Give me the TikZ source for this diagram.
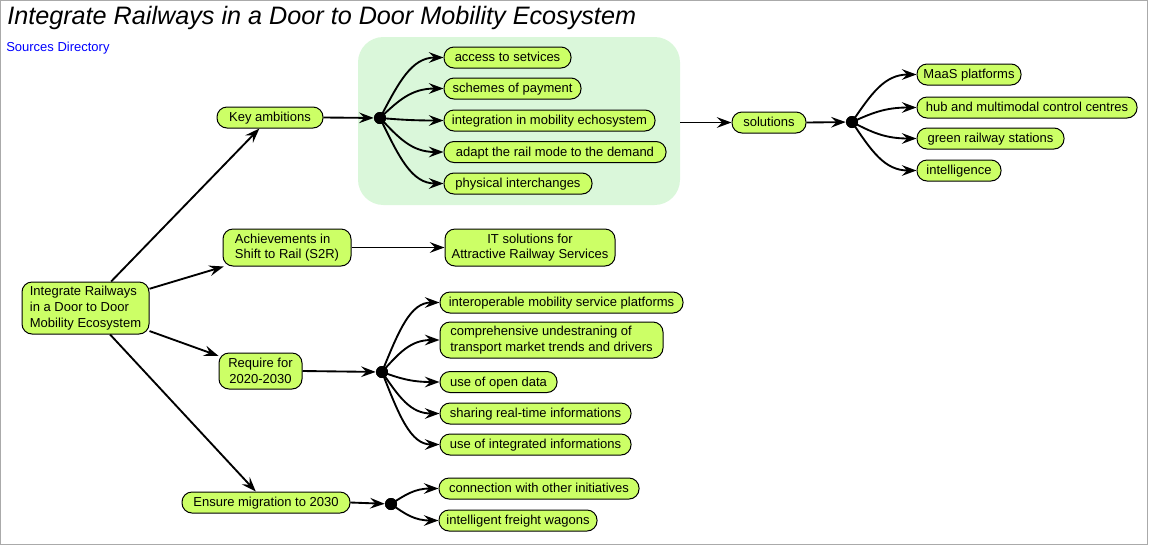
\documentclass[tikz,border=0pt]{standalone}
\usepackage{fontspec}
\setmainfont{Liberation Sans}
\usetikzlibrary{arrows.meta}
\definecolor{nodefill}{RGB}{204,255,102}
\definecolor{groupbg}{RGB}{218,247,218}
\definecolor{framegray}{RGB}{170,170,170}
\tikzset{
  box/.style={draw=black, fill=nodefill, line width=0.75pt, inner sep=0pt, anchor=center,
    font=\fontsize{9.75pt}{11.75pt}\selectfont},
  pill/.style={box, rounded corners=7.5pt, minimum height=15.75pt, text height=7pt, text depth=0.6pt},
  bigbox/.style={box, rounded corners=7.5pt},
  junction/.style={circle, fill=black, draw=none, inner sep=0pt, minimum size=9pt},
  conn/.style={line width=1.4pt, -{Stealth[length=11pt, width=8pt, inset=4pt]}},
}
\begin{document}
\begin{tikzpicture}[x=0.75pt, y=-0.75pt]
\useasboundingbox (0,0) rectangle (1149,547);
\draw[framegray, line width=0.75pt] (0.5,0.5) rectangle (1147.5,544.5);

% title and link
\node[anchor=base west, inner sep=0pt, font=\fontsize{18.9pt}{22pt}\selectfont\itshape] (title) at (7,24) {Integrate Railways in a Door to Door Mobility Ecosystem};
\node[anchor=base west, inner sep=0pt, text=blue, font=\fontsize{9.75pt}{11.75pt}\selectfont] (src) at (6,51) {Sources Directory};

% green group background
\node[fill=groupbg, draw=none, rounded corners=19pt, minimum width=241.5pt, minimum height=126pt, inner sep=0pt, anchor=center] (bg) at (519,121) {};

% root
\node[bigbox, minimum width=95.25pt, minimum height=39pt, align=left] (root) at (85.5,308) {Integrate Railways\\in a Door to Door\\Mobility Ecosystem};

% key ambitions branch
\node[pill, minimum width=79.5pt] (key) at (270,117.5) {Key ambitions};
\node[junction] (d1) at (380,118) {};
\node[pill, minimum width=95.25pt] (acc) at (507.5,57.5) {access to setvices};
\node[pill, minimum width=102.75pt] (sch) at (512.5,88.5) {schemes of payment};
\node[pill, minimum width=158.25pt] (intg) at (549.5,120.5) {integration in mobility echosystem};
\node[pill, minimum width=166.5pt] (adp) at (555,152) {adapt the rail mode to the demand};
\node[pill, minimum width=111pt] (phy) at (518,183.5) {physical interchanges};

% solutions
\node[pill, minimum width=55.5pt] (sol) at (769,122.5) {solutions};
\node[junction] (d2) at (852,122) {};
\node[pill, minimum width=78pt] (maas) at (969,74.5) {MaaS platforms};
\node[pill, minimum width=165pt] (hub) at (1027,107.5) {hub and multimodal control centres};
\node[pill, minimum width=110.25pt] (grn) at (990.5,138.5) {green railway stations};
\node[pill, minimum width=63pt] (intl) at (959,170.5) {intelligence};

% achievements
\node[bigbox, minimum width=96pt, minimum height=27.75pt, align=left] (ach) at (287,247.5) {Achievements in\\Shift to Rail (S2R)};
\node[bigbox, minimum width=127.5pt, minimum height=27.75pt, align=center] (its) at (530,247.5) {IT solutions for\\Attractive Railway Services};

% require
\node[bigbox, minimum width=62.25pt, minimum height=27pt, align=center] (req) at (260.5,371) {Require for\\2020-2030};
\node[junction] (d3) at (382,372) {};
\node[pill, minimum width=182.25pt] (iop) at (561.5,302.5) {interoperable mobility service platforms};
\node[bigbox, minimum width=167.25pt, minimum height=27pt, align=left] (cmp) at (551.5,340) {comprehensive undestraning of\\transport market trends and drivers};
\node[pill, minimum width=87.75pt] (opn) at (498.5,382) {use of open data};
\node[pill, minimum width=143.25pt] (shr) at (535.5,413.5) {sharing real-time informations};
\node[pill, minimum width=143.25pt] (uin) at (535.5,444.5) {use of integrated informations};

% ensure
\node[pill, minimum width=126pt] (ens) at (266,502.5) {Ensure migration to 2030};
\node[junction] (d4) at (391,504) {};
\node[pill, minimum width=150pt] (cwo) at (539,488.5) {connection with other initiatives};
\node[pill, minimum width=118.5pt] (frt) at (518,520.5) {intelligent freight wagons};

% root connectors
\draw[conn] (root) -- (key);
\draw[conn] (root) -- (ach);
\draw[conn] (root) -- (req);
\draw[conn] (root) -- (ens);

% key ambitions
\draw[conn] (key.east) -- (d1);
\draw[conn] (d1.center) .. controls +(19,-36) and +(-32,0) .. (acc.west);
\draw[conn] (d1.center) .. controls +(19,-18) and +(-32,0) .. (sch.west);
\draw[conn] (d1.center) .. controls +(19,1.5) and +(-32,0) .. (intg.west);
\draw[conn] (d1.center) .. controls +(19,20) and +(-32,0) .. (adp.west);
\draw[conn] (d1.center) .. controls +(19,39) and +(-32,0) .. (phy.west);

% solutions
\draw[conn] (bg.east |- sol.west) -- (sol.west);
\draw[conn] (sol.east) -- (d2);
\draw[conn] (d2.center) .. controls +(19.5,-28.5) and +(-32,0) .. (maas.west);
\draw[conn] (d2.center) .. controls +(19.5,-8.7) and +(-32,0) .. (hub.west);
\draw[conn] (d2.center) .. controls +(19.5,10) and +(-32,0) .. (grn.west);
\draw[conn] (d2.center) .. controls +(19.5,29) and +(-32,0) .. (intl.west);

% achievements
\draw[conn] (ach.east) -- (its.west);

% require
\draw[conn] (req.east) -- (d3);
\draw[conn] (d3.center) .. controls +(17,-42) and +(-29,0) .. (iop.west);
\draw[conn] (d3.center) .. controls +(17,-19) and +(-29,0) .. (cmp.west);
\draw[conn] (d3.center) .. controls +(17,6) and +(-29,0) .. (opn.west);
\draw[conn] (d3.center) .. controls +(17,25) and +(-29,0) .. (shr.west);
\draw[conn] (d3.center) .. controls +(17,43.5) and +(-29,0) .. (uin.west);

% ensure
\draw[conn] (ens.east) -- (d4);
\draw[conn] (d4.center) .. controls +(14,-9) and +(-24,0) .. (cwo.west);
\draw[conn] (d4.center) .. controls +(14,10) and +(-24,0) .. (frt.west);

% redraw junction dots on top
\fill (d1) circle (4.5pt);
\fill (d2) circle (4.5pt);
\fill (d3) circle (4.5pt);
\fill (d4) circle (4.5pt);
\end{tikzpicture}
\end{document}
